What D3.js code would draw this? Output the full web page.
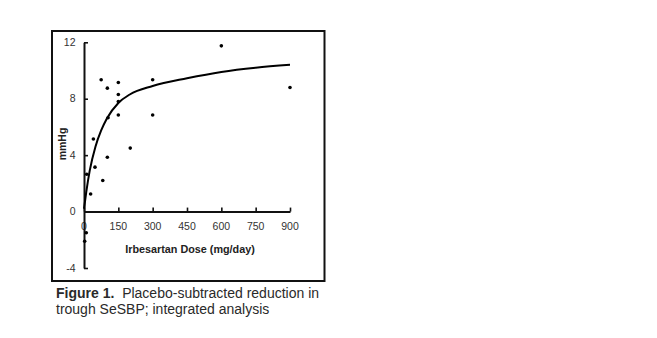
<!DOCTYPE html>
<html>
<head>
<meta charset="utf-8">
<script src="https://cdn.jsdelivr.net/npm/d3@7"></script>
<style>
  html, body { margin: 0; padding: 0; background: #fff; }
  svg { display: block; }
</style>
</head>
<body>
<svg id="chart" width="657" height="338"></svg>
<script>
// Observed dose groups (mg/day) and placebo-subtracted reductions (mmHg)
const doses = [3, 10, 12, 29, 41, 48, 75, 82, 102, 102, 105, 150, 150, 150, 150, 202, 300, 300, 600, 900];
const reductions = [-2.1, -1.5, 2.65, 1.25, 5.15, 3.15, 9.35, 2.2, 8.75, 3.85, 6.65, 9.15, 8.3, 7.8, 6.85, 4.5, 9.35, 6.85, 11.75, 8.8];

// Fitted dose-response curve
const curveDoses = [0, 10, 25, 50, 75, 100, 150, 200, 300, 450, 600, 750, 900];
const curveValues = [0.2, 1.4, 2.9, 4.6, 5.75, 6.6, 7.7, 8.3, 8.9, 9.45, 9.9, 10.2, 10.4];

// Axis ticks
const xTicks = [0, 150, 300, 450, 600, 750, 900];
const yTicks = [-4, 0, 4, 8, 12];

const svg = d3.select("#chart");

const x = d3.scaleLinear().domain([0, 900]).range([84, 290]);
const y = d3.scaleLinear().domain([-4, 12]).range([268, 42.3]);

// Outer frame
svg.append("rect")
  .attr("x", 52).attr("y", 31)
  .attr("width", 272.5).attr("height", 250)
  .attr("fill", "none").attr("stroke", "#111").attr("stroke-width", 2);

const tickFont = "Liberation Sans, Arial, Helvetica, sans-serif";

// X axis along y = 0, ticks pointing up into the plot
const xAxis = d3.axisTop(x).tickValues(xTicks).tickSize(4).tickSizeOuter(0).tickFormat("");
const gx = svg.append("g").attr("transform", `translate(0,${y(0)})`).call(xAxis);
gx.select(".domain").attr("stroke", "#111").attr("stroke-width", 2);
gx.selectAll(".tick line").attr("stroke", "#111").attr("stroke-width", 1.6);

svg.append("g").selectAll("text")
  .data(xTicks)
  .join("text")
  .attr("x", d => x(d))
  .attr("y", y(0) + 18)
  .attr("text-anchor", "middle")
  .attr("font-family", tickFont)
  .attr("font-size", 10.5)
  .attr("fill", "#333")
  .text(d => d);

// Y axis at dose 0, ticks pointing right into the plot
const yAxis = d3.axisRight(y).tickValues(yTicks).tickSize(4).tickSizeOuter(0).tickFormat("");
const gy = svg.append("g").attr("transform", `translate(${x(0)},0)`).call(yAxis);
gy.select(".domain").attr("stroke", "#111").attr("stroke-width", 2);
gy.selectAll(".tick line").attr("stroke", "#111").attr("stroke-width", 1.6);

svg.append("g").selectAll("text")
  .data(yTicks)
  .join("text")
  .attr("x", 75.5)
  .attr("y", d => y(d) + 3.5)
  .attr("text-anchor", "end")
  .attr("font-family", tickFont)
  .attr("font-size", 10.5)
  .attr("fill", "#333")
  .text(d => d);

// Axis titles
svg.append("text")
  .attr("x", 190).attr("y", 253)
  .attr("text-anchor", "middle")
  .attr("font-family", tickFont)
  .attr("font-size", 10.8)
  .attr("font-weight", "bold")
  .attr("fill", "#222")
  .text("Irbesartan Dose (mg/day)");

svg.append("text")
  .attr("transform", "translate(65.5,144) rotate(-90)")
  .attr("text-anchor", "middle")
  .attr("font-family", tickFont)
  .attr("font-size", 10.5)
  .attr("font-weight", "bold")
  .attr("fill", "#222")
  .text("mmHg");

// Fitted curve
const line = d3.line()
  .x((d, i) => x(curveDoses[i]))
  .y(d => y(d))
  .curve(d3.curveMonotoneX);

svg.append("path")
  .datum(curveValues)
  .attr("d", line)
  .attr("fill", "none")
  .attr("stroke", "#000")
  .attr("stroke-width", 2);

// Observed points
svg.append("g").selectAll("circle")
  .data(doses)
  .join("circle")
  .attr("cx", d => x(d))
  .attr("cy", (d, i) => y(reductions[i]))
  .attr("r", 1.8)
  .attr("fill", "#000");

// Caption
const cap = svg.append("text")
  .attr("font-family", tickFont)
  .attr("font-size", 14)
  .attr("fill", "#2a2a2a");
const l1 = cap.append("tspan").attr("x", 56).attr("y", 298);
l1.append("tspan").attr("font-weight", "bold").text("Figure 1.");
l1.append("tspan").text("\u00a0 Placebo-subtracted reduction in");
cap.append("tspan").attr("x", 56).attr("y", 314).text("trough SeSBP; integrated analysis");
</script>
</body>
</html>
